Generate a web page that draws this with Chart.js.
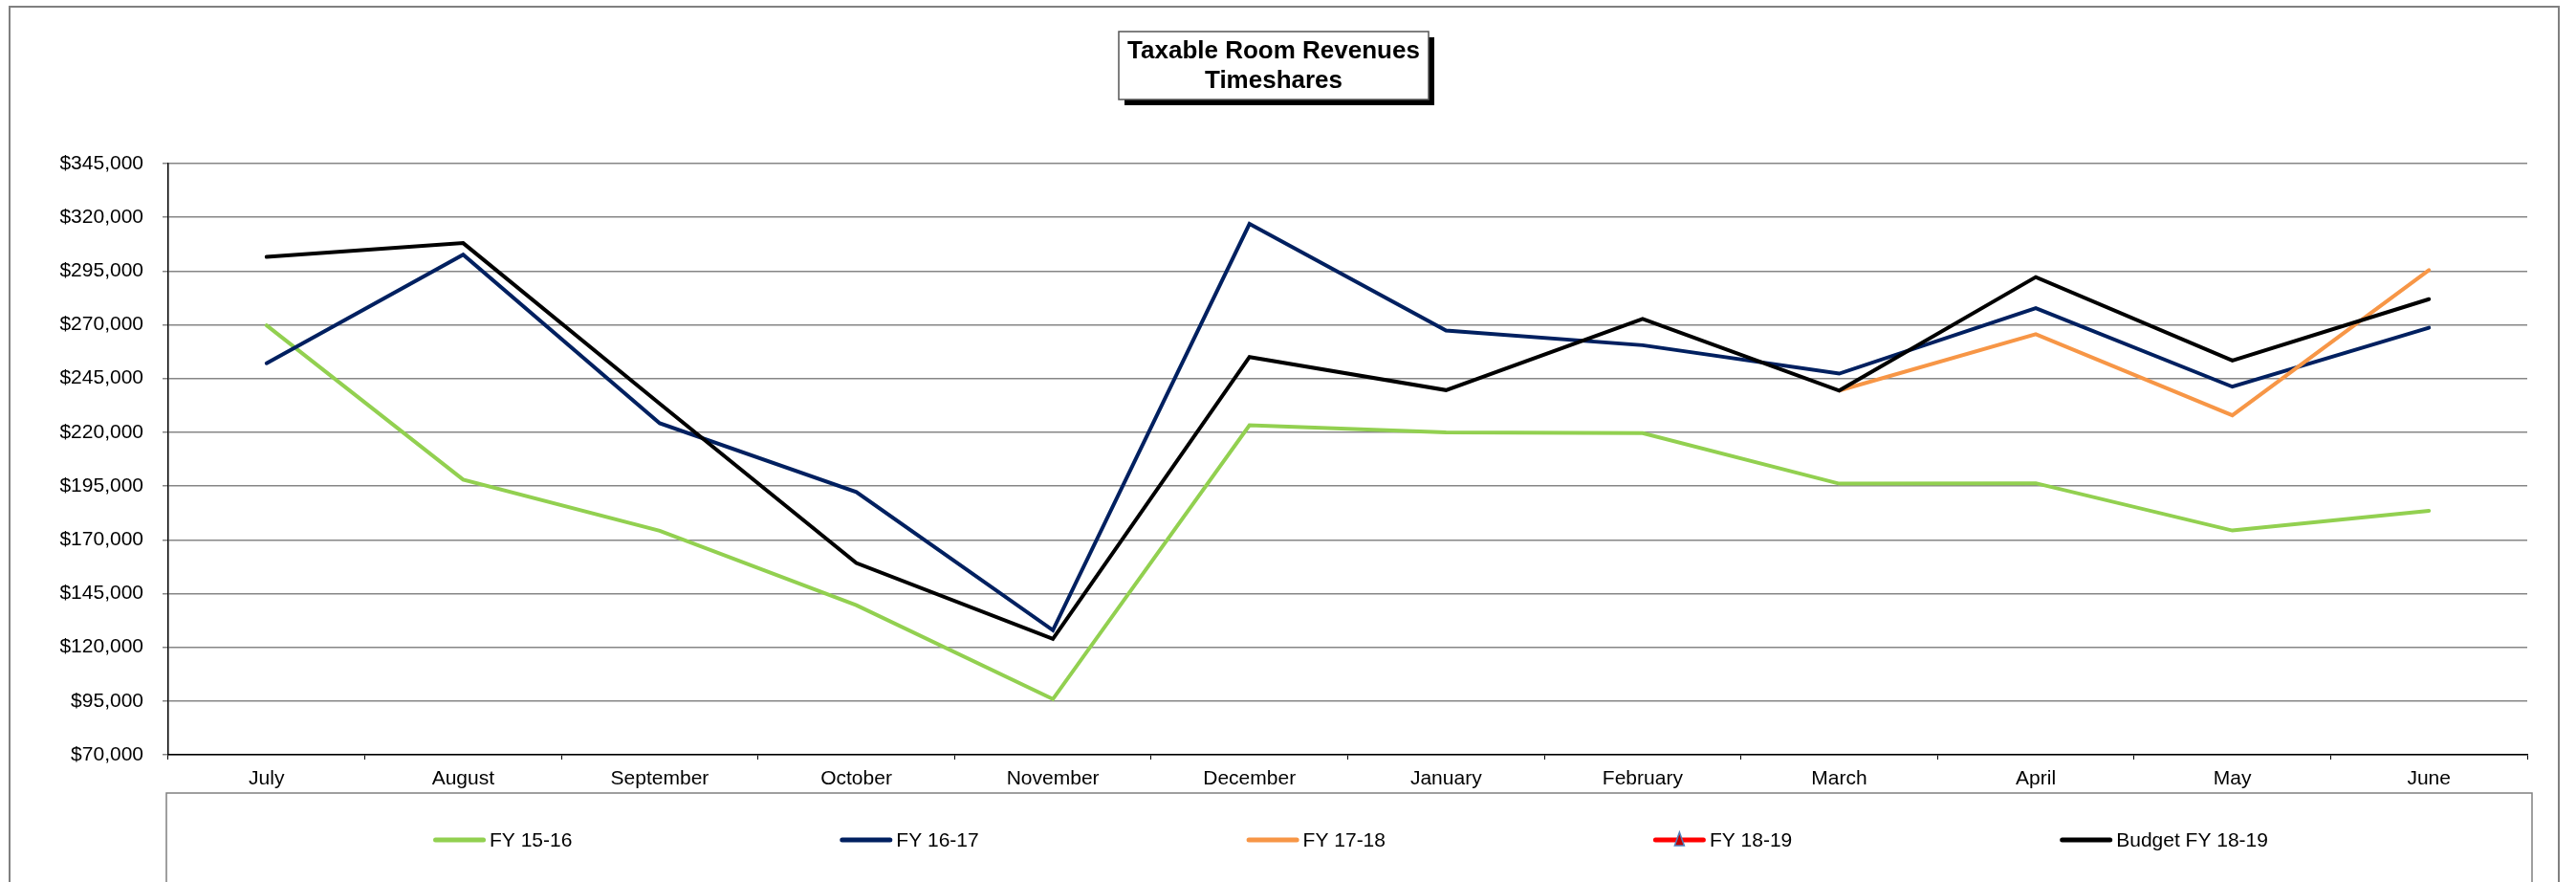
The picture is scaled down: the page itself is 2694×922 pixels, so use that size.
<!DOCTYPE html>
<html>
<head>
<meta charset="utf-8">
<title>Taxable Room Revenues - Timeshares</title>
<script src="https://cdn.jsdelivr.net/npm/chart.js@4.4.1/dist/chart.umd.min.js"></script>
<style>
    html, body { margin: 0; padding: 0; background: #fff; }
    #wrap { width: 2694px; height: 922px; position: relative; }
</style>
</head>
<body>
<div id="wrap"><canvas id="revenue-chart"></canvas></div>
<script>
const months = ['July', 'August', 'September', 'October', 'November', 'December',
    'January', 'February', 'March', 'April', 'May', 'June'];

const fy1516 = [269700, 198000, 174200, 139600, 95900, 223300, 219900, 219600, 196100, 196300, 174300, 183500];
const fy1617 = [252100, 302600, 224200, 192200, 127900, 316900, 267300, 260500, 247300, 277700, 241200, 268600];
const fy1718 = [null, null, null, null, null, null, null, null, 239400, 265600, 227900, 295400];
const fy1819 = [null, null, null, null, null, null, null, null, null, null, null, null];
const budget1819 = [301600, 308000, 233300, 159200, 123900, 255000, 239600, 272700, 239400, 292200, 253400, 281900];

const yMin = 70000;
const yMax = 345000;
const yStep = 25000;

const FONT = "'Liberation Sans', Arial, sans-serif";

document.addEventListener('DOMContentLoaded', () => {
    const ctx = document.getElementById('revenue-chart').getContext('2d');

    // frame around the whole chart + boxed title with drop shadow
    const frame = {
        id: 'frame',
        beforeDraw(chart) {
            const c = chart.ctx;
            c.save();
            c.strokeStyle = '#808080';
            c.lineWidth = 2;
            c.beginPath();
            c.moveTo(10, 930);
            c.lineTo(10, 7);
            c.lineTo(2676, 7);
            c.lineTo(2676, 930);
            c.stroke();

            const t = chart.titleBlock;
            const cx = t.left + t.width / 2;
            const w = 324, h = 71, top = 33;
            c.fillStyle = '#000';
            c.fillRect(cx - w / 2 + 6, top + 6, w, h);
            c.fillStyle = '#fff';
            c.fillRect(cx - w / 2, top, w, h);
            c.strokeStyle = '#555';
            c.lineWidth = 1.5;
            c.strokeRect(cx - w / 2, top, w, h);
            c.restore();
        }
    };

    // Excel-style legend in a box under the axis
    const legendBox = {
        id: 'legendBox',
        afterDraw(chart) {
            const c = chart.ctx;
            c.save();
            c.strokeStyle = '#808080';
            c.lineWidth = 1.5;
            c.strokeRect(174, 829, 2474, 200);

            chart.data.datasets.forEach((ds, i) => {
                const x = 453 + i * 425.3;
                const y = 878;
                c.strokeStyle = ds.borderColor;
                c.lineWidth = 5;
                c.lineCap = 'round';
                c.beginPath();
                c.moveTo(x + 2.5, y);
                c.lineTo(x + 52.5, y);
                c.stroke();

                if (ds.pointStyle === 'triangle') {
                    const mx = x + 27.5;
                    c.beginPath();
                    c.moveTo(mx, y - 8);
                    c.lineTo(mx + 5, y + 6);
                    c.lineTo(mx - 5, y + 6);
                    c.closePath();
                    c.fillStyle = ds.pointBackgroundColor;
                    c.fill();
                    c.strokeStyle = ds.pointBorderColor;
                    c.lineWidth = 1.5;
                    c.stroke();
                }

                c.fillStyle = '#000';
                c.font = '21px ' + FONT;
                c.textBaseline = 'middle';
                c.textAlign = 'left';
                c.fillText(ds.label, x + 59, y + 1);
            });
            c.restore();
        }
    };

    const lineDefaults = {
        borderWidth: 4,
        pointRadius: 0,
        pointHoverRadius: 0,
        borderCapStyle: 'round',
        tension: 0,
        spanGaps: false
    };

    new Chart(ctx, {
        type: 'line',
        data: {
            labels: months,
            datasets: [
                { ...lineDefaults, label: 'FY 15-16', data: fy1516, borderColor: '#92D050', order: 5 },
                { ...lineDefaults, label: 'FY 16-17', data: fy1617, borderColor: '#002060', order: 4 },
                { ...lineDefaults, label: 'FY 17-18', data: fy1718, borderColor: '#F79646', order: 3 },
                { ...lineDefaults, label: 'FY 18-19', data: fy1819, borderColor: '#FF0000', order: 2,
                    pointStyle: 'triangle', pointBackgroundColor: '#C00000', pointBorderColor: '#4F81BD' },
                { ...lineDefaults, label: 'Budget FY 18-19', data: budget1819, borderColor: '#000000', order: 1 }
            ]
        },
        options: {
            responsive: true,
            maintainAspectRatio: false,
            animation: false,
            layout: {
                padding: { left: 21, right: 51, top: 0, bottom: 93 }
            },
            plugins: {
                legend: { display: false },
                tooltip: { enabled: false },
                title: {
                    display: true,
                    text: ['Taxable Room Revenues', 'Timeshares'],
                    color: '#000',
                    font: { family: FONT, size: 26, weight: 'bold', lineHeight: 1.18 },
                    padding: { top: 38.5, bottom: 71.1 }
                }
            },
            scales: {
                x: {
                    offset: true,
                    grid: {
                        display: true,
                        drawOnChartArea: false,
                        offset: true,
                        tickLength: 5,
                        tickColor: '#000'
                    },
                    border: { color: '#000', width: 1.5 },
                    ticks: {
                        color: '#000',
                        padding: 8,
                        maxRotation: 0,
                        autoSkip: false,
                        font: { family: FONT, size: 21 }
                    },
                    afterFit(scale) { scale.height = 40; }
                },
                y: {
                    min: yMin,
                    max: yMax,
                    grid: {
                        color: '#868686',
                        lineWidth: 1.5,
                        tickLength: 6
                    },
                    border: { color: '#000', width: 1.5 },
                    ticks: {
                        stepSize: yStep,
                        color: '#000',
                        padding: 20,
                        font: { family: FONT, size: 21 },
                        callback: (value) => '$' + value.toLocaleString('en-US')
                    },
                    afterFit(scale) { scale.width = 155; }
                }
            }
        },
        plugins: [frame, legendBox]
    });
});
</script>
</body>
</html>
